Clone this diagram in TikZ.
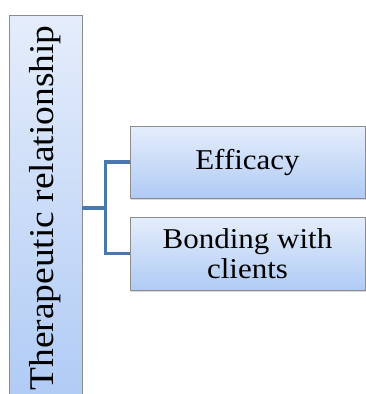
\documentclass[tikz,border=0pt]{standalone}
\usepackage{fontspec}
\setmainfont{Liberation Serif}[FakeStretch=1.08]
\usetikzlibrary{shadows}
\definecolor{boxtop}{RGB}{229,237,251}
\definecolor{boxbottom}{RGB}{176,203,245}
\definecolor{linkblue}{RGB}{74,120,172}

\begin{document}
\begin{tikzpicture}[x=1pt, y=-1pt,
    box/.style={draw=black!45, line width=0.7pt, top color=boxtop, bottom color=boxbottom,
        inner sep=0pt, align=center, drop shadow={opacity=0.3, shadow xshift=0.6pt, shadow yshift=-1.8pt}},
    link/.style={draw=linkblue, line width=3.6pt}]
    \useasboundingbox (0,0) rectangle (366,394);

    % Root
    \node[box, minimum width=73pt, minimum height=386pt, font=\fontsize{34.7}{40}\selectfont]
        (root) at (45.5,208) {\rotatebox{90}{Therapeutic relationship}};

    % Children
    \node[box, minimum width=235pt, minimum height=72pt, font=\fontsize{28.7}{30}\selectfont]
        (eff) at (247.5,162) {Efficacy};
    \node[box, minimum width=235pt, minimum height=73pt, font=\fontsize{28.7}{30}\selectfont]
        (bond) at (247.5,253.5) {Bonding with\\clients};

    % Connectors
    \coordinate (fork) at ([xshift=23pt]root.east);
    \draw[link] (root.east) -- (fork) |- (eff.west);
    \draw[link] (fork) |- (bond.west);
\end{tikzpicture}
\end{document}
